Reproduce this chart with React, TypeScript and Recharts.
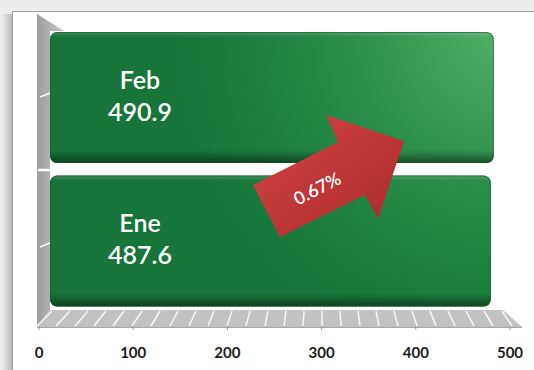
import React from "react";
import { ComposedChart, Bar, Line, XAxis, YAxis } from "recharts";

const months = ["Ene", "Feb"];
const values = [487.6, 490.9];
const xTicks = [0, 100, 200, 300, 400, 500];
const changeLabel = "0.67%";

const data = months.map((month, i) => ({ month, value: values[i] }));

const FONT = "Lato, 'Open Sans', sans-serif";

// the floor hatching, drawn as a plain backdrop
const hatch = Array.from({ length: 26 }, (_, i) => i * 20);

function Backdrop() {
  return (
    <svg width={534} height={370} style={{ position: "absolute", left: 0, top: 0 }}>
      <defs>
        <radialGradient id="barGlow" gradientUnits="userSpaceOnUse" cx={505} cy={30} r={330}>
          <stop offset="0" stopColor="#52b068" />
          <stop offset="0.45" stopColor="#2c8f4a" />
          <stop offset="0.8" stopColor="#1c7d3d" />
          <stop offset="1" stopColor="#177539" />
        </radialGradient>
        <linearGradient id="barShade" x1="0" y1="0" x2="0" y2="1">
          <stop offset="0" stopColor="#ffffff" stopOpacity="0.18" />
          <stop offset="0.04" stopColor="#ffffff" stopOpacity="0" />
          <stop offset="0.9" stopColor="#000000" stopOpacity="0" />
          <stop offset="1" stopColor="#000000" stopOpacity="0.45" />
        </linearGradient>
        <linearGradient id="wall" x1="0" y1="0" x2="1" y2="0">
          <stop offset="0" stopColor="#9c9c9c" />
          <stop offset="1" stopColor="#c9c9c9" />
        </linearGradient>
        <linearGradient id="shadowL" x1="0" y1="0" x2="1" y2="0">
          <stop offset="0" stopColor="#000" stopOpacity="0" />
          <stop offset="1" stopColor="#000" stopOpacity="0.22" />
        </linearGradient>
        <linearGradient id="arrowFill" x1="0" y1="0" x2="1" y2="1">
          <stop offset="0" stopColor="#d64444" />
          <stop offset="1" stopColor="#a82a2c" />
        </linearGradient>
      </defs>
      <rect x={0} y={0} width={534} height={370} fill="#ededef" />
      <rect x={2} y={14} width={10} height={356} fill="url(#shadowL)" />
      <rect x={12.5} y={11.5} width={530} height={370} fill="#ffffff" stroke="#9d9d9d" />
      {/* left wall */}
      <polygon points="37,14 64,31 50,31 50,310 37,327" fill="url(#wall)" />
      <line x1={38} y1={170} x2={80} y2={170} stroke="#ffffff" strokeWidth={2.5} />
      <line x1={40} y1={97} x2={50} y2={93} stroke="#ffffff" strokeWidth={1.5} />
      <line x1={40} y1={247} x2={50} y2={243} stroke="#ffffff" strokeWidth={1.5} />
      {/* floor */}
      <polygon points="37,327 522,327 503,310 50,310" fill="#c2c2c2" />
      {hatch.map((v) => (
        <line
          key={v}
          x1={37 + v * 0.95}
          y1={326}
          x2={52 + v * 0.9}
          y2={311}
          stroke="#ffffff"
          strokeWidth={1.5}
          opacity={0.9}
        />
      ))}
      <line x1={37} y1={327.5} x2={522} y2={327.5} stroke="#a8a8a8" />
    </svg>
  );
}

function Arrow() {
  return (
    <svg width={534} height={370} style={{ position: "absolute", left: 0, top: 0, pointerEvents: "none" }}>
      <polygon
        points="280,237 253,185 338,142 326,115 404,141 378,219 365,195"
        fill="url(#arrowFill)"
      />
      <text
        x={317}
        y={188}
        transform="rotate(-27 317 188)"
        textAnchor="middle"
        dominantBaseline="central"
        fill="#ffffff"
        fontFamily={FONT}
        fontWeight={600}
        fontSize={18}
      >
        {changeLabel}
      </text>
    </svg>
  );
}

const GreenBar = (props: any) => {
  const { x, y, width, height, payload } = props;
  const cy = y + height / 2;
  return (
    <g>
      <rect x={x} y={y} width={width} height={height} rx={7} fill="url(#barGlow)" />
      <rect x={x} y={y} width={width} height={height} rx={7} fill="url(#barShade)" />
      <rect
        x={x + 0.5}
        y={y + 0.5}
        width={width - 1}
        height={height - 1}
        rx={7}
        fill="none"
        stroke="#0e5526"
        strokeOpacity={0.6}
      />
      <text
        x={x + 90}
        textAnchor="middle"
        fill="#ffffff"
        fontFamily={FONT}
        fontWeight={600}
        fontSize={25}
      >
        <tspan x={x + 90} y={cy - 9}>{payload.month}</tspan>
        <tspan x={x + 90} y={cy + 23}>{payload.value.toFixed(1)}</tspan>
      </text>
    </g>
  );
};

const FrontTick = (props: any) => {
  const { x, y, payload } = props;
  return (
    <g>
      <line x1={x} x2={x} y1={y + 13} y2={y + 17} stroke="#9a9a9a" />
      <text
        x={x}
        y={y + 39}
        textAnchor="middle"
        dominantBaseline="central"
        fill="#1c1c1c"
        fontFamily={FONT}
        fontWeight={700}
        fontSize={15}
      >
        {payload.value}
      </text>
    </g>
  );
};

export default function App() {
  return (
    <div style={{ position: "fixed", left: 0, top: 0, width: 534, height: 370 }}>
      <Backdrop />
      <div style={{ position: "absolute", left: 0, top: 0 }}>
        <ComposedChart
          width={534}
          height={370}
          data={data}
          layout="vertical"
          margin={{ top: 26, right: 24, left: 39, bottom: 7 }}
        >
          <YAxis type="category" dataKey="month" reversed hide />
          <XAxis
            xAxisId="front"
            type="number"
            domain={[0, 500]}
            ticks={xTicks}
            height={50}
            axisLine={false}
            tickLine={false}
            tickSize={0}
            tickMargin={0}
            tick={<FrontTick />}
            interval={0}
          />
          <XAxis
            xAxisId="back"
            type="number"
            domain={[0, 500]}
            padding={{ left: 11, right: 8 }}
            height={0}
            hide
          />
          <Bar
            dataKey="value"
            xAxisId="back"
            barSize={131}
            shape={<GreenBar />}
            isAnimationActive={false}
          />
          <Line
            dataKey="value"
            xAxisId="front"
            stroke="none"
            dot={false}
            activeDot={false}
            isAnimationActive={false}
          />
        </ComposedChart>
      </div>
      <Arrow />
    </div>
  );
}
